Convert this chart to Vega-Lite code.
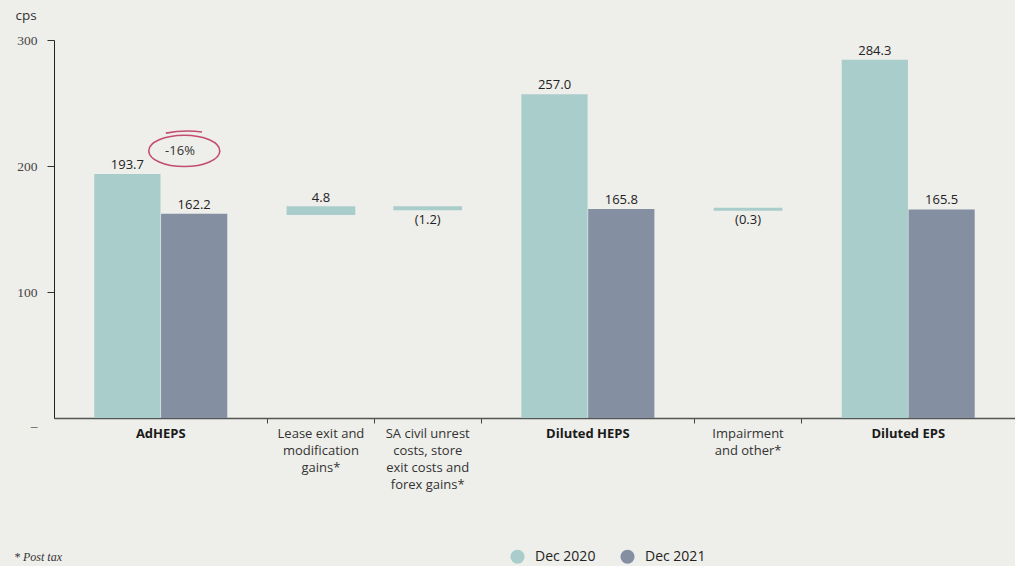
{
  "$schema": "https://vega.github.io/schema/vega-lite/v6.json",
  "width": 961,
  "height": 378,
  "autosize": {"type": "none"},
  "padding": {"left": 54, "top": 40, "right": 0, "bottom": 148},
  "background": "#eeeeea",
  "title": {"text": "* Post tax", "orient": "bottom", "anchor": "start", "frame": "group", "dx": -40, "offset": -12, "font": "Liberation Serif", "fontStyle": "italic", "fontSize": 12, "fontWeight": "normal", "color": "#333333"},
  "datasets": {
    "bars": [
      {"slot": "AdHEPS|Dec 2020", "category": "AdHEPS", "series": "Dec 2020", "kind": "total", "low": 0, "high": 193.7, "value": 193.7},
      {"slot": "AdHEPS|Dec 2021", "category": "AdHEPS", "series": "Dec 2021", "kind": "total", "low": 0, "high": 162.2, "value": 162.2},
      {"slot": "Lease", "category": "Lease exit and modification gains", "series": "Change", "kind": "change", "low": 162.2, "high": 167.0, "value": 4.8},
      {"slot": "SA", "category": "SA civil unrest costs, store exit costs and forex gains", "series": "Change", "kind": "change", "low": 165.8, "high": 167.0, "value": -1.2},
      {"slot": "Diluted HEPS|Dec 2020", "category": "Diluted HEPS", "series": "Dec 2020", "kind": "total", "low": 0, "high": 257.0, "value": 257.0},
      {"slot": "Diluted HEPS|Dec 2021", "category": "Diluted HEPS", "series": "Dec 2021", "kind": "total", "low": 0, "high": 165.8, "value": 165.8},
      {"slot": "Impairment", "category": "Impairment and other", "series": "Change", "kind": "change", "low": 165.5, "high": 165.8, "value": -0.3},
      {"slot": "Diluted EPS|Dec 2020", "category": "Diluted EPS", "series": "Dec 2020", "kind": "total", "low": 0, "high": 284.3, "value": 284.3},
      {"slot": "Diluted EPS|Dec 2021", "category": "Diluted EPS", "series": "Dec 2021", "kind": "total", "low": 0, "high": 165.5, "value": 165.5}
    ],
    "cats": [
      {"slot": "AdHEPS|Dec 2020", "label": "AdHEPS", "kind": "total"},
      {"slot": "Lease", "label": "Lease exit and\nmodification\ngains*", "kind": "change"},
      {"slot": "SA", "label": "SA civil unrest\ncosts, store\nexit costs and\nforex gains*", "kind": "change"},
      {"slot": "Diluted HEPS|Dec 2020", "label": "Diluted HEPS", "kind": "total"},
      {"slot": "Impairment", "label": "Impairment\nand other*", "kind": "change"},
      {"slot": "Diluted EPS|Dec 2020", "label": "Diluted EPS", "kind": "total"}
    ],
    "notes": [
      {"slot": "AdHEPS|Dec 2021", "note": "-16%"}
    ]
  },
  "data": {"name": "bars"},
  "layer": [
    {
      "transform": [{"filter": "datum.kind == 'total' && datum.series == 'Dec 2020'"}],
      "mark": {"type": "bar", "width": {"band": 0.62}, "xOffset": 20},
      "encoding": {
        "x": {"field": "slot", "type": "nominal", "title": null,
          "scale": {"domain": ["AdHEPS|Dec 2020", "AdHEPS|Dec 2021", "Lease", "SA", "Diluted HEPS|Dec 2020", "Diluted HEPS|Dec 2021", "Impairment", "Diluted EPS|Dec 2020", "Diluted EPS|Dec 2021"], "paddingInner": 0, "paddingOuter": 0},
          "axis": {"values": ["Lease", "SA", "Diluted HEPS|Dec 2020", "Impairment", "Diluted EPS|Dec 2020"], "bandPosition": 0, "labels": false, "title": null, "domainColor": "#555555", "domainWidth": 1.5, "tickColor": "#444444", "tickSize": 5, "grid": false}},
        "y": {"field": "low", "type": "quantitative", "title": "cps",
          "scale": {"domain": [0, 300], "nice": false},
          "axis": {"title": "cps", "titleAngle": 0, "titleX": -39, "titleY": -25, "titleAlign": "left", "titleBaseline": "middle", "titleFont": "Open Sans", "titleFontSize": 13.5, "titleFontWeight": "normal", "titleColor": "#333333",
            "values": [0, 100, 200, 300], "labelExpr": "datum.value == 0 ? '–' : datum.label",
            "labelFont": "Liberation Serif", "labelFontSize": 13.5, "labelColor": "#444444", "labelPadding": 10,
            "labelBaseline": {"condition": {"test": "datum.value == 0", "value": "top"}, "value": "middle"},
            "tickSize": 7, "tickColor": {"condition": {"test": "datum.value == 0", "value": "transparent"}, "value": "#333333"},
            "domainColor": "#222222", "domainWidth": 1, "grid": false}},
        "y2": {"field": "high"},
        "color": {"field": "series", "type": "nominal",
          "scale": {"domain": ["Dec 2020", "Dec 2021"], "range": ["#a9cdcb", "#8490a2"]},
          "legend": {"orient": "none", "legendX": 456, "legendY": 509, "direction": "horizontal", "title": null, "symbolType": "circle", "symbolSize": 200, "symbolStrokeWidth": 0, "labelFont": "Open Sans", "labelFontSize": 14, "labelColor": "#222222", "columnPadding": 24, "labelOffset": 10}}
      }
    },
    {
      "transform": [{"filter": "datum.kind == 'total' && datum.series == 'Dec 2021'"}],
      "mark": {"type": "bar", "width": {"band": 0.62}, "xOffset": -20},
      "encoding": {
        "x": {"field": "slot", "type": "nominal", "title": null},
        "y": {"field": "low", "type": "quantitative", "title": "cps"},
        "y2": {"field": "high"},
        "color": {"field": "series", "type": "nominal",
          "scale": {"domain": ["Dec 2020", "Dec 2021"], "range": ["#a9cdcb", "#8490a2"]},
          "legend": {"orient": "none", "legendX": 456, "legendY": 509, "direction": "horizontal", "title": null, "symbolType": "circle", "symbolSize": 200, "symbolStrokeWidth": 0, "labelFont": "Open Sans", "labelFontSize": 14, "labelColor": "#222222", "columnPadding": 24, "labelOffset": 10}}
      }
    },
    {
      "transform": [{"filter": "datum.kind == 'change'"}],
      "mark": {"type": "bar", "width": {"band": 0.62}, "color": "#a9cdcb", "stroke": "#a9cdcb", "strokeWidth": 2.5},
      "encoding": {
        "x": {"field": "slot", "type": "nominal", "title": null},
        "y": {"field": "low", "type": "quantitative", "title": "cps"},
        "y2": {"field": "high"}
      }
    },
    {
      "transform": [{"filter": "datum.kind == 'total' && datum.series == 'Dec 2020'"}],
      "mark": {"type": "text", "dx": 20, "dy": -5, "baseline": "alphabetic", "font": "Open Sans", "fontSize": 13, "color": "#222222"},
      "encoding": {
        "x": {"field": "slot", "type": "nominal", "title": null},
        "y": {"field": "high", "type": "quantitative", "title": "cps"},
        "text": {"field": "value", "type": "quantitative", "format": "(.1f"}
      }
    },
    {
      "transform": [{"filter": "datum.kind == 'total' && datum.series == 'Dec 2021'"}],
      "mark": {"type": "text", "dx": -20, "dy": -5, "baseline": "alphabetic", "font": "Open Sans", "fontSize": 13, "color": "#222222"},
      "encoding": {
        "x": {"field": "slot", "type": "nominal", "title": null},
        "y": {"field": "high", "type": "quantitative", "title": "cps"},
        "text": {"field": "value", "type": "quantitative", "format": "(.1f"}
      }
    },
    {
      "transform": [{"filter": "datum.kind == 'change' && datum.value >= 0"}],
      "mark": {"type": "text", "dy": -6, "baseline": "alphabetic", "font": "Open Sans", "fontSize": 13, "color": "#222222"},
      "encoding": {
        "x": {"field": "slot", "type": "nominal", "title": null},
        "y": {"field": "high", "type": "quantitative", "title": "cps"},
        "text": {"field": "value", "type": "quantitative", "format": "(.1f"}
      }
    },
    {
      "transform": [{"filter": "datum.kind == 'change' && datum.value < 0"}],
      "mark": {"type": "text", "dy": 5, "baseline": "top", "font": "Open Sans", "fontSize": 13, "color": "#222222"},
      "encoding": {
        "x": {"field": "slot", "type": "nominal", "title": null},
        "y": {"field": "low", "type": "quantitative", "title": "cps"},
        "text": {"field": "value", "type": "quantitative", "format": "(.1f"}
      }
    },
    {
      "data": {"name": "cats"},
      "transform": [{"filter": "datum.kind == 'total'"}],
      "mark": {"type": "text", "baseline": "top", "dy": 10, "lineBreak": "\n", "lineHeight": 17, "font": "Open Sans", "fontSize": 13, "fontWeight": "bold", "color": "#1a1a1a"},
      "encoding": {
        "x": {"field": "slot", "type": "nominal", "title": null, "bandPosition": 1},
        "y": {"datum": 0, "type": "quantitative", "title": "cps"},
        "text": {"field": "label"}
      }
    },
    {
      "data": {"name": "cats"},
      "transform": [{"filter": "datum.kind == 'change'"}],
      "mark": {"type": "text", "baseline": "top", "dy": 10, "lineBreak": "\n", "lineHeight": 17, "font": "Open Sans", "fontSize": 13, "fontWeight": "normal", "color": "#333333"},
      "encoding": {
        "x": {"field": "slot", "type": "nominal", "title": null, "bandPosition": 0.5},
        "y": {"datum": 0, "type": "quantitative", "title": "cps"},
        "text": {"field": "label"}
      }
    },
    {
      "data": {"name": "notes"},
      "mark": {"type": "point", "shape": "M -1 0 A 1 0.44 0 1 0 1 0 A 1 0.44 0 1 0 -1 0 M -0.52 -0.5 Q 0 -0.6 0.5 -0.53", "size": 5041, "filled": false, "stroke": "#c44d73", "strokeWidth": 1.6, "opacity": 1},
      "encoding": {
        "x": {"field": "slot", "type": "nominal", "title": null, "bandPosition": 0.22},
        "y": {"datum": 212, "type": "quantitative", "title": "cps"}
      }
    },
    {
      "data": {"name": "notes"},
      "mark": {"type": "text", "font": "Open Sans", "fontSize": 13, "color": "#333333", "baseline": "middle"},
      "encoding": {
        "x": {"field": "slot", "type": "nominal", "title": null, "bandPosition": 0.18},
        "y": {"datum": 212, "type": "quantitative", "title": "cps"},
        "text": {"field": "note"}
      }
    }
  ],
  "config": {
    "view": {"stroke": null},
    "font": "Open Sans"
  }
}
